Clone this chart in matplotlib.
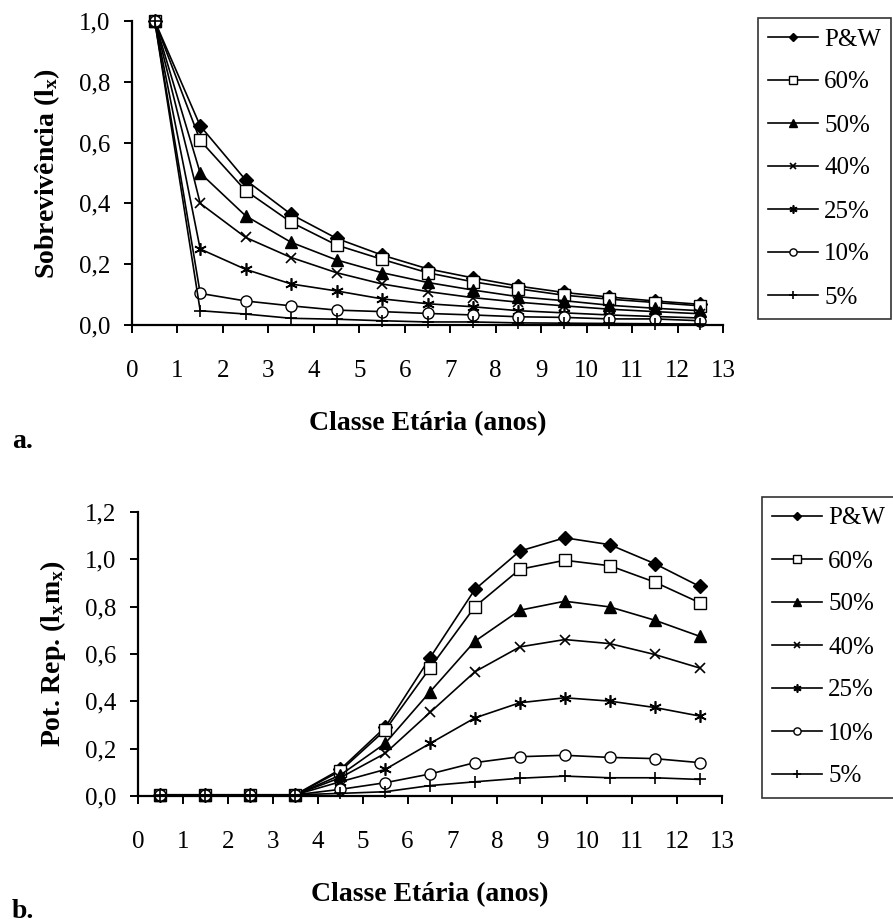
import matplotlib

matplotlib.use("Agg")
import matplotlib.pyplot as plt
from matplotlib.lines import Line2D
from matplotlib.ticker import FuncFormatter, MultipleLocator

plt.rcParams["font.family"] = ["Liberation Serif", "DejaVu Serif"]
plt.rcParams["mathtext.fontset"] = "custom"
plt.rcParams["mathtext.rm"] = "Liberation Serif"
plt.rcParams["mathtext.bf"] = "Liberation Serif:bold"
plt.rcParams["mathtext.it"] = "Liberation Serif:italic"

# age classes (midpoints)
ages = [0.5, 1.5, 2.5, 3.5, 4.5, 5.5, 6.5, 7.5, 8.5, 9.5, 10.5, 11.5, 12.5]
labels = ["P&W", "60%", "50%", "40%", "25%", "10%", "5%"]

# panel a: survivorship l_x
lx_pw = [1.0, 0.655, 0.477, 0.364, 0.285, 0.230, 0.185, 0.155, 0.128, 0.107, 0.092, 0.079, 0.068]
lx_60 = [1.0, 0.607, 0.442, 0.338, 0.263, 0.216, 0.172, 0.142, 0.119, 0.098, 0.085, 0.074, 0.063]
lx_50 = [1.0, 0.500, 0.359, 0.272, 0.214, 0.172, 0.140, 0.115, 0.093, 0.080, 0.065, 0.055, 0.047]
lx_40 = [1.0, 0.400, 0.288, 0.222, 0.172, 0.135, 0.110, 0.090, 0.075, 0.063, 0.052, 0.044, 0.037]
lx_25 = [1.0, 0.250, 0.183, 0.135, 0.112, 0.086, 0.070, 0.060, 0.047, 0.040, 0.033, 0.028, 0.023]
lx_10 = [1.0, 0.104, 0.079, 0.063, 0.049, 0.044, 0.038, 0.033, 0.027, 0.025, 0.020, 0.020, 0.014]
lx_05 = [1.0, 0.047, 0.036, 0.022, 0.019, 0.014, 0.010, 0.010, 0.007, 0.006, 0.005, 0.004, 0.003]

# panel b: reproductive potential l_x m_x
lm_pw = [0.005, 0.005, 0.005, 0.005, 0.112, 0.290, 0.584, 0.873, 1.035, 1.091, 1.062, 0.982, 0.886]
lm_60 = [0.005, 0.005, 0.005, 0.005, 0.105, 0.278, 0.541, 0.800, 0.958, 0.996, 0.973, 0.904, 0.817]
lm_50 = [0.005, 0.005, 0.005, 0.005, 0.088, 0.222, 0.440, 0.654, 0.785, 0.823, 0.799, 0.743, 0.675]
lm_40 = [0.005, 0.005, 0.005, 0.005, 0.077, 0.180, 0.353, 0.525, 0.630, 0.661, 0.644, 0.598, 0.541]
lm_25 = [0.005, 0.005, 0.005, 0.005, 0.060, 0.112, 0.222, 0.330, 0.394, 0.415, 0.401, 0.374, 0.338]
lm_10 = [0.005, 0.005, 0.005, 0.005, 0.028, 0.056, 0.093, 0.141, 0.166, 0.172, 0.163, 0.158, 0.141]
lm_05 = [0.005, 0.005, 0.005, 0.005, 0.011, 0.018, 0.044, 0.060, 0.075, 0.084, 0.077, 0.077, 0.070]

styles = [
    dict(marker="D", mfc="black", ms=7),
    dict(marker="s", mfc="white", ms=8),
    dict(marker="^", mfc="black", ms=9),
    dict(marker="x", mfc="none", ms=7, mew=1.2),
    dict(marker=(6, 2, 0), mfc="none", ms=9, mew=1.2),
    dict(marker="o", mfc="white", ms=8),
    dict(marker="+", mfc="none", ms=8, mew=1.2),
]

comma = FuncFormatter(lambda v, _: f"{v:.1f}".replace(".", ","))


def draw_panel(ax, series, ymax, ylabel):
    for ys, st in zip(series, styles):
        ax.plot(ages, ys, color="black", lw=1.2, mec="black", clip_on=False, **st)
    ax.set_xlim(0, 13)
    ax.set_ylim(0, ymax)
    ax.xaxis.set_major_locator(MultipleLocator(1))
    ax.yaxis.set_major_locator(MultipleLocator(0.2))
    ax.yaxis.set_major_formatter(comma)
    for s in ("top", "right"):
        ax.spines[s].set_visible(False)
    for s in ("left", "bottom"):
        ax.spines[s].set_linewidth(1.6)
    ax.tick_params(direction="out", length=6, width=1.4, labelsize=18)
    ax.tick_params(axis="x", pad=19)
    ax.tick_params(axis="y", pad=9.5)
    ax.set_ylabel(ylabel, fontsize=20, fontweight="bold", labelpad=12)
    ax.set_xlabel("Classe Etária (anos)", fontsize=20, fontweight="bold", labelpad=21)


def add_legend(fig, left, top):
    handles = [
        Line2D([], [], color="black", lw=1.2, mec="black",
               **{**st, "ms": st["ms"] * 0.65})
        for st in styles
    ]
    leg = fig.legend(handles, labels, loc="upper left", bbox_to_anchor=(left, top),
                     frameon=True, fancybox=False, edgecolor="black", fontsize=18,
                     handlelength=2.0, handletextpad=0.25, labelspacing=0.82,
                     borderpad=0.4, borderaxespad=0)
    leg.get_frame().set_linewidth(1.2)


fig = plt.figure(figsize=(8.93, 9.23), dpi=100)

ax_a = fig.add_axes([132 / 893, 1 - 325 / 923, 591 / 893, 304 / 923])
draw_panel(ax_a, [lx_pw, lx_60, lx_50, lx_40, lx_25, lx_10, lx_05], 1.0,
           r"Sobrevivência (l$_\mathbf{x}$)")
add_legend(fig, 758 / 893, 1 - 18 / 923)

ax_b = fig.add_axes([138 / 893, 1 - 796 / 923, 584 / 893, 284 / 923])
draw_panel(ax_b, [lm_pw, lm_60, lm_50, lm_40, lm_25, lm_10, lm_05], 1.2,
           r"Pot. Rep. (l$_\mathbf{x}$m$_\mathbf{x}$)")
add_legend(fig, 762 / 893, 1 - 497 / 923)

fig.text(12 / 893, 1 - 442 / 923, "a.", fontsize=20, fontweight="bold", va="center")
fig.text(12 / 893, 1 - 912 / 923, "b.", fontsize=20, fontweight="bold", va="center")

fig.savefig("out.png", dpi=100)
